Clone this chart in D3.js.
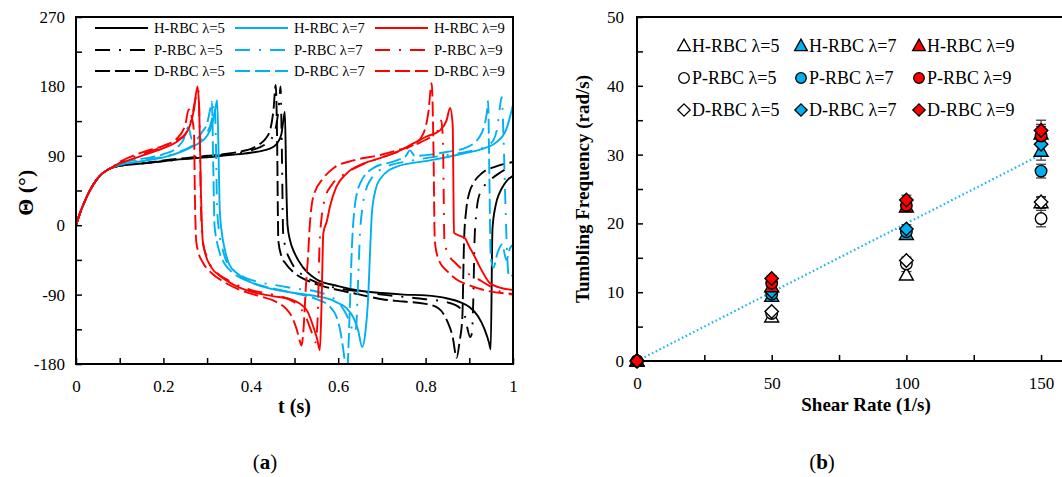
<!DOCTYPE html>
<html>
<head>
<meta charset="utf-8">
<script src="https://cdn.jsdelivr.net/npm/d3@7"></script>
<style>
  body { margin: 0; background: #fff; }
  svg { display: block; }
  text { font-family: "Liberation Serif", "Times New Roman", serif; fill: #000; }
</style>
</head>
<body>
<svg id="fig" width="1062" height="477"></svg>
<script>
// ---------- Panel (a): orientation angle Θ versus time ----------
const riseStart = [[0,0],[0.01,17],[0.02,31],[0.03,43],[0.04,53],[0.05,61],[0.06,67],[0.07,71],[0.08,74]];

const hrbc5 = riseStart.concat([[0.1,77],[0.15,80],[0.2,83],[0.25,86],[0.3,88],[0.35,91],[0.4,94],[0.43,97],[0.45,101],[0.46,106],[0.47,118],[0.475,138],[0.478,147],[0.481,60],[0.484,0],[0.49,-20],[0.5,-36],[0.52,-55],[0.55,-70],[0.6,-79],[0.65,-85],[0.7,-88],[0.75,-90],[0.8,-91],[0.85,-95],[0.88,-100],[0.9,-106],[0.92,-118],[0.935,-135],[0.945,-152],[0.949,-161],[0.953,-5],[0.96,25],[0.97,43],[0.98,53],[0.99,60],[1.0,64]]);

const prbc5 = riseStart.concat([[0.1,77],[0.15,80],[0.2,83],[0.25,86],[0.3,89],[0.35,92],[0.4,97],[0.42,101],[0.44,108],[0.45,115],[0.46,135],[0.465,160],[0.468,180],[0.471,100],[0.474,-10],[0.48,-30],[0.49,-45],[0.5,-55],[0.52,-65],[0.55,-74],[0.6,-82],[0.65,-86],[0.7,-90],[0.75,-93],[0.8,-96],[0.85,-100],[0.88,-108],[0.89,-118],[0.895,-132],[0.902,-145],[0.906,-140],[0.909,-100],[0.912,-20],[0.916,15],[0.924,41],[0.947,58],[0.97,68],[1.0,77]]);

const drbc5 = riseStart.concat([[0.1,77],[0.15,80],[0.2,84],[0.25,87],[0.3,90],[0.35,93],[0.38,96],[0.4,99],[0.42,105],[0.435,113],[0.445,125],[0.452,150],[0.457,182],[0.46,120],[0.463,-20],[0.47,-40],[0.48,-50],[0.5,-62],[0.53,-72],[0.57,-80],[0.6,-84],[0.65,-90],[0.7,-96],[0.75,-99],[0.8,-102],[0.83,-108],[0.85,-125],[0.862,-145],[0.871,-172],[0.878,-150],[0.884,-120],[0.888,-20],[0.893,20],[0.9,42],[0.91,55],[0.93,68],[0.96,76],[1.0,82]]);

const hrbc7 = riseStart.concat([[0.1,78],[0.15,83],[0.2,88],[0.23,93],[0.26,100],[0.28,106],[0.3,116],[0.31,128],[0.318,148],[0.323,162],[0.326,100],[0.329,20],[0.335,-15],[0.34,-30],[0.35,-50],[0.37,-63],[0.4,-74],[0.45,-83],[0.5,-88],[0.55,-92],[0.58,-96],[0.6,-101],[0.62,-108],[0.635,-120],[0.645,-135],[0.655,-158],[0.662,-140],[0.668,-100],[0.674,-20],[0.677,15],[0.685,45],[0.696,60],[0.734,76],[0.81,84],[0.886,93],[0.93,99],[0.963,108],[0.985,125],[1.0,156]]);

const prbc7 = riseStart.concat([[0.1,79],[0.15,84],[0.2,89],[0.23,94],[0.26,101],[0.28,108],[0.3,120],[0.31,135],[0.317,158],[0.32,110],[0.323,20],[0.328,-10],[0.335,-30],[0.345,-48],[0.36,-58],[0.38,-66],[0.42,-74],[0.46,-78],[0.5,-82],[0.55,-86],[0.58,-92],[0.6,-100],[0.615,-112],[0.628,-128],[0.636,-140],[0.641,-132],[0.645,-80],[0.65,-10],[0.656,25],[0.663,45],[0.673,58],[0.711,76],[0.772,84],[0.848,91],[0.894,95],[0.94,103],[0.955,110],[0.965,130],[0.97,153],[0.974,166],[0.978,120],[0.982,40],[0.986,-30],[0.99,-65],[0.995,-70],[1.0,-60]]);

const drbc7 = riseStart.concat([[0.1,80],[0.15,86],[0.2,92],[0.23,100],[0.245,110],[0.257,127],[0.265,112],[0.275,112],[0.29,122],[0.3,132],[0.307,150],[0.311,160],[0.314,80],[0.317,0],[0.322,-20],[0.33,-38],[0.34,-50],[0.36,-62],[0.4,-74],[0.45,-82],[0.5,-88],[0.55,-96],[0.58,-105],[0.6,-125],[0.61,-155],[0.616,-180],[0.62,-195],[0.624,-150],[0.627,-100],[0.632,-20],[0.637,20],[0.643,42],[0.65,54],[0.68,74],[0.734,84],[0.755,90],[0.764,97],[0.775,90],[0.848,95],[0.894,101],[0.924,115],[0.94,145],[0.943,161],[0.946,60],[0.949,-40],[0.955,-55],[0.965,-35],[0.975,-25],[0.985,-45],[0.993,-30],[1.0,-25]]);

const hrbc9 = riseStart.concat([[0.1,80],[0.13,86],[0.16,92],[0.2,100],[0.23,108],[0.25,118],[0.26,128],[0.27,150],[0.278,180],[0.282,150],[0.286,40],[0.29,-20],[0.295,-35],[0.31,-55],[0.33,-66],[0.36,-77],[0.4,-86],[0.45,-92],[0.49,-96],[0.51,-101],[0.53,-112],[0.545,-135],[0.552,-148],[0.558,-162],[0.562,-100],[0.566,-10],[0.574,5],[0.581,24],[0.596,50],[0.619,67],[0.658,80],[0.696,87],[0.734,95],[0.772,106],[0.802,115],[0.833,123],[0.848,136],[0.856,152],[0.862,130],[0.865,-10],[0.875,-13],[0.89,-17],[0.9,-28],[0.909,-37],[0.924,-54],[0.947,-75],[0.97,-81],[1.0,-84]]);

const prbc9 = riseStart.concat([[0.1,81],[0.13,88],[0.16,94],[0.2,102],[0.23,110],[0.25,118],[0.265,140],[0.275,168],[0.28,176],[0.283,120],[0.286,20],[0.29,-20],[0.3,-42],[0.32,-60],[0.35,-72],[0.4,-84],[0.45,-90],[0.49,-97],[0.51,-105],[0.525,-118],[0.54,-140],[0.548,-152],[0.553,-120],[0.557,-30],[0.562,10],[0.57,35],[0.585,52],[0.62,68],[0.66,80],[0.7,88],[0.75,98],[0.79,108],[0.815,116],[0.83,125],[0.836,136],[0.84,100],[0.843,-20],[0.85,-35],[0.87,-50],[0.89,-60],[0.92,-70],[0.95,-80],[0.97,-86],[1.0,-90]]);

const drbc9 = riseStart.concat([[0.1,82],[0.13,90],[0.16,96],[0.2,103],[0.23,112],[0.25,130],[0.258,150],[0.265,140],[0.27,120],[0.272,40],[0.275,-20],[0.28,-35],[0.29,-48],[0.31,-62],[0.34,-74],[0.38,-85],[0.42,-92],[0.46,-100],[0.48,-108],[0.495,-120],[0.505,-135],[0.512,-150],[0.516,-156],[0.52,-140],[0.526,-80],[0.531,-40],[0.535,0],[0.543,37],[0.566,61],[0.589,74],[0.635,84],[0.696,91],[0.734,97],[0.772,104],[0.795,119],[0.806,145],[0.814,184],[0.818,100],[0.821,-20],[0.83,-45],[0.85,-60],[0.87,-70],[0.9,-78],[0.94,-85],[1.0,-89]]);

const timeTicks = [0,0.1,0.2,0.3,0.4,0.5,0.6,0.7,0.8,0.9,1];
const angleTicks = [-180,-135,-90,-45,0,45,90,135,180,225,270];

// ---------- Panel (b): tumbling frequency versus shear rate ----------
const shearRates = [0, 50, 100, 150];
const freqH5 = [0, 6.4, 12.5, 23.0];
const freqP5 = [0, 6.9, 14.1, 20.7];
const freqD5 = [0, 7.2, 14.6, 23.1];
const freqH7 = [0, 9.4, 18.4, 30.5];
const freqP7 = [0, 9.7, 18.8, 27.6];
const freqD7 = [0, 10.1, 19.2, 31.5];
const freqH9 = [0, 10.8, 22.4, 33.0];
const freqP9 = [0, 11.3, 22.6, 32.7];
const freqD9 = [0, 12.0, 23.4, 33.5];
const errH5 = [0, 0.3, 0.5, 0.8];
const errP5 = [0, 0.3, 0.5, 1.2];
const errD5 = [0, 0.3, 0.5, 0.8];
const errH7 = [0, 0.3, 0.6, 1.3];
const errP7 = [0, 0.3, 0.6, 1.0];
const errD7 = [0, 0.3, 0.6, 1.3];
const errH9 = [0, 0.4, 0.7, 1.4];
const errP9 = [0, 0.4, 0.7, 1.4];
const errD9 = [0, 0.4, 0.7, 1.5];
const trendRates = [0, 150];
const trendFreq = [0, 30];
const rateTicks = [0,25,50,75,100,125,150];
const freqTicks = [0,5,10,15,20,25,30,35,40,45,50];

const BLACK = "#000000", BLUE = "#00b0f0", RED = "#ff0000";
const DASHED = "15,5", DASHDOT = "15,9,2,9";

const svg = d3.select("#fig");
const defs = svg.append("defs");

// ===== Panel (a) =====
const xT = d3.scaleLinear().domain([0, 1]).range([76, 513]);
const yA = d3.scaleLinear().domain([-180, 270]).range([364, 17]);

defs.append("clipPath").attr("id", "clipA").append("rect")
  .attr("x", xT(0)).attr("y", yA(270))
  .attr("width", xT(1) - xT(0)).attr("height", yA(-180) - yA(270));

const seriesA = [
  { name: "H-RBC λ=5", data: hrbc5, color: BLACK, dash: null },
  { name: "P-RBC λ=5", data: prbc5, color: BLACK, dash: DASHDOT },
  { name: "D-RBC λ=5", data: drbc5, color: BLACK, dash: DASHED },
  { name: "H-RBC λ=7", data: hrbc7, color: BLUE, dash: null },
  { name: "P-RBC λ=7", data: prbc7, color: BLUE, dash: DASHDOT },
  { name: "D-RBC λ=7", data: drbc7, color: BLUE, dash: DASHED },
  { name: "H-RBC λ=9", data: hrbc9, color: RED, dash: null },
  { name: "P-RBC λ=9", data: prbc9, color: RED, dash: DASHDOT },
  { name: "D-RBC λ=9", data: drbc9, color: RED, dash: DASHED }
];

const lineA = d3.line().x(d => xT(d[0])).y(d => yA(d[1])).curve(d3.curveMonotoneX);

const plotA = svg.append("g").attr("clip-path", "url(#clipA)");
plotA.selectAll("path.curve").data(seriesA).join("path")
  .attr("class", "curve")
  .attr("d", d => lineA(d.data))
  .attr("fill", "none")
  .attr("stroke", d => d.color)
  .attr("stroke-width", 1.9)
  .attr("stroke-dasharray", d => d.dash)
  .attr("stroke-linejoin", "round");

const fmtT = d => (Math.round(d * 10) % 2 === 0) ? String(+d.toFixed(1)) : "";
const axA_x = svg.append("g").attr("transform", `translate(0,${yA(-180)})`)
  .call(d3.axisBottom(xT).tickValues(timeTicks).tickSize(-6).tickPadding(16).tickFormat(fmtT));
const axA_y = svg.append("g").attr("transform", `translate(${xT(0)},0)`)
  .call(d3.axisLeft(yA).tickValues(angleTicks).tickSize(-6).tickPadding(11)
    .tickFormat(d => (d % 90 === 0) ? String(d) : ""));
[axA_x, axA_y].forEach(g => {
  g.select(".domain").remove();
  g.selectAll(".tick line").attr("stroke", "#000").attr("stroke-width", 1.5);
  g.selectAll(".tick text").style("font-size", "17px").style("font-family", '"Liberation Serif", serif');
});

svg.append("rect")
  .attr("x", xT(0)).attr("y", yA(270))
  .attr("width", xT(1) - xT(0)).attr("height", yA(-180) - yA(270))
  .attr("fill", "none").attr("stroke", "#000").attr("stroke-width", 2);

// legend (a): three columns by λ, three rows by RBC type
const legA = svg.append("g");
const legColX = [95, 235, 375];
const legRowY = [28, 50, 71];
seriesA.forEach((s, i) => {
  const col = Math.floor(i / 3), row = i % 3;
  const x0 = legColX[col], y0 = legRowY[row];
  legA.append("line").attr("x1", x0).attr("x2", x0 + 53).attr("y1", y0).attr("y2", y0)
    .attr("stroke", s.color).attr("stroke-width", 1.9).attr("stroke-dasharray", s.dash);
  legA.append("text").attr("x", x0 + 59).attr("y", y0).attr("dy", "0.35em")
    .style("font-size", "14.6px").text(s.name);
});

svg.append("text").attr("x", xT(0.5)).attr("y", 413).attr("text-anchor", "middle")
  .style("font-size", "20px").style("font-weight", "bold").text("t (s)");
svg.append("text").attr("transform", `translate(33,${yA(42)}) rotate(-90)`).attr("text-anchor", "middle")
  .style("font-size", "22px").style("font-weight", "bold").text("Θ (°)");
const capA = svg.append("text").attr("x", 265).attr("y", 469).attr("text-anchor", "middle").style("font-size", "21px");
capA.append("tspan").text("(");
capA.append("tspan").style("font-weight", "bold").text("a");
capA.append("tspan").text(")");

// ===== Panel (b) =====
const xS = d3.scaleLinear().domain([0, 160]).range([637, 1068]);
const yF = d3.scaleLinear().domain([0, 50]).range([361, 17]);

const fmtR = d => (d % 50 === 0) ? String(d) : "";
const axB_x = svg.append("g").attr("transform", `translate(0,${yF(0)})`)
  .call(d3.axisBottom(xS).tickValues(rateTicks).tickSize(-6).tickPadding(16).tickFormat(fmtR));
const axB_y = svg.append("g").attr("transform", `translate(${xS(0)},0)`)
  .call(d3.axisLeft(yF).tickValues(freqTicks).tickSize(-6).tickPadding(13)
    .tickFormat(d => (d % 10 === 0) ? String(d) : ""));
[axB_x, axB_y].forEach(g => {
  g.select(".domain").remove();
  g.selectAll(".tick line").attr("stroke", "#000").attr("stroke-width", 1.5);
  g.selectAll(".tick text").style("font-size", "17px").style("font-family", '"Liberation Serif", serif');
});

svg.append("rect")
  .attr("x", xS(0)).attr("y", yF(50))
  .attr("width", xS(160) - xS(0)).attr("height", yF(0) - yF(50))
  .attr("fill", "none").attr("stroke", "#000").attr("stroke-width", 2);

// dotted linear reference
svg.append("path")
  .attr("d", d3.line().x(d => xS(d[0])).y(d => yF(d[1]))(trendRates.map((r, i) => [r, trendFreq[i]])))
  .attr("fill", "none").attr("stroke", "#1cb5ec").attr("stroke-width", 2.2)
  .attr("stroke-dasharray", "1.6,2.6");

const seriesB = [
  { name: "H-RBC λ=5", vals: freqH5, err: errH5, fill: "#ffffff", shape: "tri" },
  { name: "P-RBC λ=5", vals: freqP5, err: errP5, fill: "#ffffff", shape: "circ" },
  { name: "D-RBC λ=5", vals: freqD5, err: errD5, fill: "#ffffff", shape: "dia" },
  { name: "H-RBC λ=7", vals: freqH7, err: errH7, fill: BLUE, shape: "tri" },
  { name: "P-RBC λ=7", vals: freqP7, err: errP7, fill: BLUE, shape: "circ" },
  { name: "D-RBC λ=7", vals: freqD7, err: errD7, fill: BLUE, shape: "dia" },
  { name: "H-RBC λ=9", vals: freqH9, err: errH9, fill: RED, shape: "tri" },
  { name: "P-RBC λ=9", vals: freqP9, err: errP9, fill: RED, shape: "circ" },
  { name: "D-RBC λ=9", vals: freqD9, err: errD9, fill: RED, shape: "dia" }
];

function markerPath(shape, s) {
  if (shape === "tri") return `M0,${-s * 0.62}L${s * 0.58},${s * 0.42}L${-s * 0.58},${s * 0.42}Z`;
  if (shape === "dia") return `M0,${-s * 0.56}L${s * 0.56},0L0,${s * 0.56}L${-s * 0.56},0Z`;
  const r = s * 0.48;
  return `M${r},0A${r},${r} 0 1,1 ${-r},0A${r},${r} 0 1,1 ${r},0Z`;
}

// error bars
const errG = svg.append("g");
seriesB.forEach(s => {
  shearRates.forEach((r, i) => {
    if (!s.err[i]) return;
    const x = xS(r), y1 = yF(s.vals[i] - s.err[i]), y2 = yF(s.vals[i] + s.err[i]);
    errG.append("line").attr("x1", x).attr("x2", x).attr("y1", y1).attr("y2", y2)
      .attr("stroke", "#333").attr("stroke-width", 1.2);
    [y1, y2].forEach(y => errG.append("line").attr("x1", x - 5).attr("x2", x + 5).attr("y1", y).attr("y2", y)
      .attr("stroke", "#333").attr("stroke-width", 1.2));
  });
});

const markG = svg.append("g");
seriesB.forEach(s => {
  markG.selectAll(null).data(shearRates.map((r, i) => [r, s.vals[i]])).join("path")
    .attr("transform", d => `translate(${xS(d[0])},${yF(d[1])})`)
    .attr("d", markerPath(s.shape, 12))
    .attr("fill", s.fill).attr("stroke", "#000").attr("stroke-width", 1.4);
});

// legend (b)
const legB = svg.append("g");
const legBX = [684, 801, 919];
const legBY = [46, 78, 110];
seriesB.forEach((s, i) => {
  const col = Math.floor(i / 3), row = i % 3;
  const x0 = legBX[col], y0 = legBY[row];
  legB.append("path").attr("transform", `translate(${x0},${y0})`)
    .attr("d", markerPath(s.shape, 11))
    .attr("fill", s.fill).attr("stroke", "#000").attr("stroke-width", 1.3);
  legB.append("text").attr("x", x0 + 8).attr("y", y0).attr("dy", "0.35em")
    .style("font-size", "18px").text(s.name);
});

svg.append("text").attr("x", 866).attr("y", 411).attr("text-anchor", "middle")
  .style("font-size", "19px").style("font-weight", "bold").text("Shear Rate (1/s)");
svg.append("text").attr("transform", `translate(589,${yF(25)}) rotate(-90)`).attr("text-anchor", "middle")
  .style("font-size", "19px").style("font-weight", "bold").text("Tumbling Frequency (rad/s)");
const capB = svg.append("text").attr("x", 822).attr("y", 469).attr("text-anchor", "middle").style("font-size", "21px");
capB.append("tspan").text("(");
capB.append("tspan").style("font-weight", "bold").text("b");
capB.append("tspan").text(")");
</script>
</body>
</html>
